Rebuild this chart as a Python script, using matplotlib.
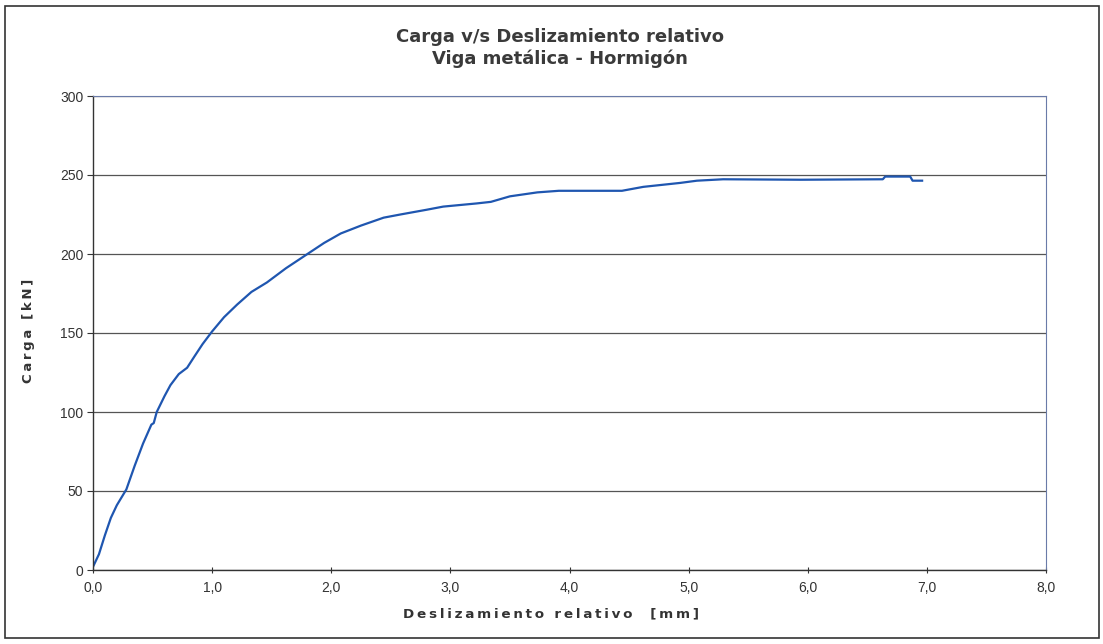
import matplotlib
matplotlib.use("Agg")
import matplotlib.pyplot as plt
from matplotlib.patches import Rectangle
from matplotlib.ticker import FuncFormatter

# Data (slip [mm], load [kN])
deslizamiento = [0.00, 0.05, 0.10, 0.15, 0.20, 0.28, 0.35, 0.42, 0.49, 0.51, 0.535,
                 0.60, 0.65, 0.72, 0.79, 0.85, 0.92, 1.00, 1.10, 1.21, 1.33, 1.46,
                 1.62, 1.80, 1.94, 2.08, 2.25, 2.44, 2.58, 2.80, 2.94, 3.22, 3.34,
                 3.50, 3.73, 3.91, 4.44, 4.62, 4.93, 5.07, 5.29, 5.94, 6.63, 6.65,
                 6.86, 6.88, 6.96]
carga = [2, 10, 22, 33, 41, 51, 66, 80, 92, 93, 100,
         110, 117, 124, 128, 135, 143, 151, 160, 168, 176, 182,
         191, 200, 207, 213, 218, 223, 225, 228, 230, 232, 233,
         236.5, 239, 240, 240, 242.5, 245, 246.4, 247.3, 247, 247.3, 249,
         249, 246.4, 246.4]

x_ticks = [0, 1, 2, 3, 4, 5, 6, 7, 8]
y_ticks = [0, 50, 100, 150, 200, 250, 300]

titulo = "Carga v/s Deslizamiento relativo\nViga metálica - Hormigón"
x_label = "Deslizamiento relativo  [mm]"
y_label = "Carga [kN]"


def spaced(s):
    # slight letter spacing like the reference
    return "\u2009".join(s)


plt.rcParams['font.family'] = ['Liberation Sans', 'DejaVu Sans']

fig = plt.figure(figsize=(11.03, 6.44), dpi=100)
fig.patch.set_facecolor('white')

# outer chart border
fig.patches.append(Rectangle((5/1103, 1 - 638/644), 1094/1103, 632/644,
                             transform=fig.transFigure, fill=False,
                             edgecolor='#333333', linewidth=1.2))

ax = fig.add_axes([93/1103, 1 - 570/644, (1046 - 93)/1103, (570 - 96)/644])
ax.plot(deslizamiento, carga, color='#1f56b0', linewidth=1.6)

ax.set_xlim(0, 8)
ax.set_ylim(0, 300)
ax.set_xticks(x_ticks)
ax.set_yticks(y_ticks)
ax.xaxis.set_major_formatter(FuncFormatter(lambda v, p: f"{v:.1f}".replace('.', ',')))
ax.tick_params(axis='both', labelsize=10, colors='#333333', length=4, width=0.8)
ax.tick_params(axis='x', direction='inout', pad=6)
ax.tick_params(axis='y', direction='out', pad=3)

ax.grid(axis='y', color='#555555', linewidth=0.9)
ax.set_axisbelow(True)
for s in ['left', 'bottom']:
    ax.spines[s].set_color('#333333')
    ax.spines[s].set_linewidth(1.0)
ax.spines['top'].set_color('#6a7ba8')
ax.spines['right'].set_color('#6a7ba8')

fig.text(560/1103, 1 - 48/644, titulo, ha='center', va='center',
         fontsize=13, fontweight='bold', color='#3a3a3a', linespacing=1.25,
         family='DejaVu Sans')
ax.set_xlabel(spaced(x_label), fontsize=9.7, fontweight='bold', color='#333333',
              family='DejaVu Sans')
ax.xaxis.set_label_coords((551 - 93) / (1046 - 93), -0.08)
ax.set_ylabel(spaced(y_label), fontsize=9.5, fontweight='bold', color='#333333',
              family='DejaVu Sans')
ax.yaxis.set_label_coords(-(93 - 35) / (1046 - 93), (570 - 331) / (570 - 96))

fig.savefig("out.png", dpi=100)
